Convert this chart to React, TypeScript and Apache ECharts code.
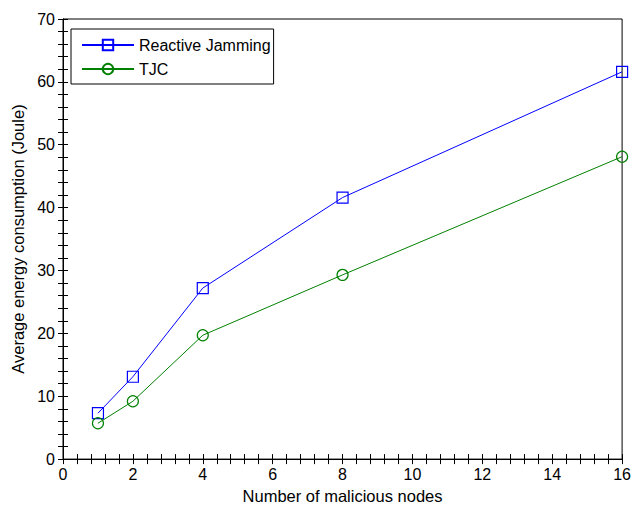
import React, { useEffect, useRef } from "react";
import * as echarts from "echarts";

const nodes = [1, 2, 4, 8, 16];
const reactiveJamming = [7.3, 13.1, 27.2, 41.6, 61.6];
const tjc = [5.7, 9.2, 19.7, 29.3, 48.1];
const seriesNames = ["Reactive Jamming", "TJC"];

const FONT = "Liberation Sans, Arial, sans-serif";

export default function App() {
  const ref = useRef<HTMLDivElement>(null);
  useEffect(() => {
    if (!ref.current) return;
    const chart = echarts.init(ref.current, null, { renderer: "svg" });
    const axisCommon = {
      axisLine: { show: true, lineStyle: { color: "#000", width: 1 } },
      axisTick: { show: true, inside: true, length: 5, lineStyle: { color: "#000" } },
      minorTick: { show: true, splitNumber: 5, length: 5, lineStyle: { color: "#000" } },
      splitLine: { show: false },
    };
    chart.setOption({
      animation: false,
      backgroundColor: "#fff",
      textStyle: { fontFamily: FONT },
      grid: { left: 63, right: 7, top: 19, bottom: 46, show: true, borderColor: "#000", borderWidth: 1 },
      legend: {
        data: seriesNames,
        orient: "vertical",
        left: 71,
        top: 29,
        borderColor: "#000",
        borderWidth: 1,
        padding: [8, 3, 7, 10],
        itemGap: 8,
        itemWidth: 52,
        itemHeight: 13,
        textStyle: { fontFamily: FONT, fontSize: 16, color: "#000" },
        backgroundColor: "#fff",
      },
      xAxis: [
        {
          type: "value",
          min: 0,
          max: 16,
          interval: 2,
          position: "bottom",
          name: "Number of malicious nodes",
          nameLocation: "middle",
          nameGap: 26,
          nameTextStyle: { fontFamily: FONT, fontSize: 16.5, color: "#000" },
          axisLabel: { fontFamily: FONT, fontSize: 16, color: "#000", margin: 7 },
          ...axisCommon,
        },
        {
          type: "value",
          min: 0,
          max: 16,
          interval: 2,
          position: "top",
          axisLabel: { show: false },
          ...axisCommon,
        },
      ],
      yAxis: [
        {
          type: "value",
          min: 0,
          max: 70,
          interval: 10,
          position: "left",
          name: "Average energy consumption (Joule)",
          nameLocation: "middle",
          nameGap: 36,
          nameTextStyle: { fontFamily: FONT, fontSize: 16.5, color: "#000" },
          axisLabel: { fontFamily: FONT, fontSize: 16, color: "#000", margin: 8 },
          ...axisCommon,
        },
        {
          type: "value",
          min: 0,
          max: 70,
          interval: 10,
          position: "right",
          axisLabel: { show: false },
          ...axisCommon,
        },
      ],
      series: [
        {
          name: seriesNames[0],
          type: "line",
          data: nodes.map((x, i) => [x, reactiveJamming[i]]),
          symbol: "rect",
          symbolSize: 11,
          itemStyle: { color: "rgba(0,0,0,0)", borderColor: "#0000ff", borderWidth: 1.2 },
          lineStyle: { color: "#0000ff", width: 1 },
        },
        {
          name: seriesNames[1],
          type: "line",
          data: nodes.map((x, i) => [x, tjc[i]]),
          symbol: "circle",
          symbolSize: 11,
          itemStyle: { color: "rgba(0,0,0,0)", borderColor: "#008000", borderWidth: 1.2 },
          lineStyle: { color: "#008000", width: 1 },
        },
      ],
    });
    return () => chart.dispose();
  }, []);
  return (
    <div
      ref={ref}
      style={{ position: "fixed", left: 0, top: 0, width: 634, height: 509 }}
    />
  );
}
